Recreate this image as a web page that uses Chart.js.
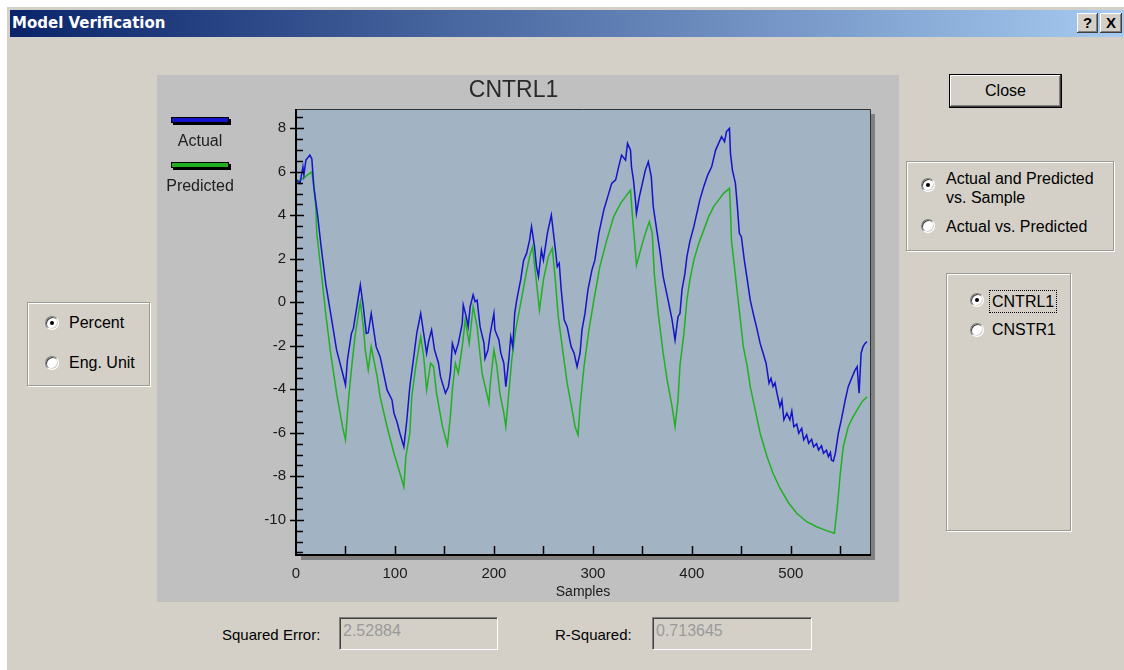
<!DOCTYPE html>
<html>
<head>
<meta charset="utf-8">
<title>Model Verification</title>
<script src="https://cdn.jsdelivr.net/npm/chart.js@4.4.1/dist/chart.umd.min.js"></script>
<style>
  body { margin: 0; width: 1124px; height: 670px; overflow: hidden; background: #fff;
         font-family: "Liberation Sans", Arial, sans-serif; }
  .abs { position: absolute; }
  .dlg { left: 6px; top: 6px; width: 1118px; height: 664px; background: #d4d0c8; box-shadow: inset 1px 1px #fff; }
  .titlebar { left: 10px; top: 10px; width: 1114px; height: 27px;
              background: linear-gradient(to right, #0a246a, #a6caf0); }
  .titlebar span { position: absolute; left: 2px; top: 0; line-height: 27px; color: #fff; font-weight: bold; font-size: 15px;
                   font-family: "DejaVu Sans", sans-serif; }
  .capbtn { top: 13px; height: 20px; background: #d4d0c8; box-sizing: border-box; text-align: center;
            font-weight: bold; font-size: 15px; line-height: 20px; color: #000;
            box-shadow: inset -1px -1px #404040, inset 1px 1px #fff, inset -2px -2px #808080; }
  .lbl { font-size: 16px; line-height: 19px; color: #000; white-space: nowrap; }
  .group { box-sizing: border-box; border: 1px solid #9c9a94; box-shadow: inset 1px 1px #fff, 1px 1px #fff; }
  .radio { width: 14px; height: 14px; border-radius: 50%; background: #fff; box-sizing: border-box;
           border: 1px solid; border-color: #808080 #fff #fff #808080;
           box-shadow: inset 1px 1px 0 #404040, inset -1px -1px 0 #d4d0c8; }
  .radio.on::after { content: ''; position: absolute; left: 4px; top: 4px; width: 4px; height: 4px;
                     border-radius: 50%; background: #000; }
  .button { left: 949px; top: 74px; width: 113px; height: 34px; box-sizing: border-box; border: 1px solid #000;
            background: #d4d0c8; text-align: center; line-height: 31px; font-size: 16px;
            box-shadow: inset -1px -1px #404040, inset 1px 1px #fff, inset -2px -2px #808080; }
  .field { top: 617px; height: 33px; box-sizing: border-box; background: #d4d0c8;
           border-top: 1px solid #808080; border-left: 1px solid #808080; border-right: 1px solid #fff; border-bottom: 1px solid #fff;
           box-shadow: inset 1px 1px #404040; font-size: 16px; color: #9a9a9a; padding: 2px 0 0 3px; line-height: 22px; }
  .panel { left: 157px; top: 75px; width: 742px; height: 527px; background: #c0c0c0; }
</style>
</head>
<body>
<div class="abs dlg"></div>
<div class="abs titlebar"><span>Model Verification</span></div>
<div class="abs capbtn" style="left:1077px;width:21px;">?</div>
<div class="abs capbtn" style="left:1100px;width:22px;">X</div>

<div class="abs group" style="left:27px;top:302px;width:123px;height:84px;"></div>
<div class="abs radio on" style="left:45px;top:316px;"></div>
<div class="abs lbl" style="left:69px;top:313px;">Percent</div>
<div class="abs radio" style="left:45px;top:356px;"></div>
<div class="abs lbl" style="left:69px;top:353px;">Eng. Unit</div>

<div class="abs button">Close</div>

<div class="abs group" style="left:906px;top:161px;width:208px;height:90px;"></div>
<div class="abs radio on" style="left:921px;top:178px;"></div>
<div class="abs lbl" style="left:946px;top:169px;">Actual and Predicted<br>vs. Sample</div>
<div class="abs radio" style="left:921px;top:219px;"></div>
<div class="abs lbl" style="left:946px;top:217px;">Actual vs. Predicted</div>

<div class="abs group" style="left:946px;top:273px;width:125px;height:258px;"></div>
<div class="abs radio on" style="left:970px;top:293px;"></div>
<div class="abs lbl" style="left:989px;top:290px;width:64px;height:21px;border:1px dotted #000;padding-left:2px;line-height:21px;box-sizing:content-box;">CNTRL1</div>
<div class="abs radio" style="left:970px;top:323px;"></div>
<div class="abs lbl" style="left:992px;top:320px;">CNSTR1</div>

<div class="abs lbl" style="left:222px;top:625px;font-size:15px;">Squared Error:</div>
<div class="abs field" style="left:339px;width:159px;">2.52884</div>
<div class="abs lbl" style="left:555px;top:625px;font-size:15px;">R-Squared:</div>
<div class="abs field" style="left:652px;width:160px;">0.713645</div>

<div class="abs panel"><canvas id="verifyChart"></canvas></div>

<script>
// sample index / value pairs, actual (blue)
const actualSamples = [
  1, 4, 7, 8, 10, 14, 16, 18, 22, 25,
  30, 35, 41, 48, 50, 52, 56, 58, 62, 65,
  68, 71, 73, 76, 78, 81, 85, 92, 97, 99,
  102, 105, 109, 112, 115, 119, 122, 126, 129, 132,
  134, 137, 140, 144, 146, 151, 154, 156, 158, 161,
  164, 168, 169, 172, 174, 176, 179, 181, 183, 186,
  190, 191, 194, 196, 200, 201, 205, 207, 210, 212,
  215, 217, 219, 221, 223, 227, 230, 233, 236, 238,
  241, 243, 245, 248, 250, 254, 258, 261, 264, 266,
  268, 271, 274, 278, 281, 284, 287, 289, 292, 295,
  299, 302, 306, 311, 316, 319, 323, 326, 329, 333,
  335, 338, 339, 341, 343, 344, 347, 350, 353, 356,
  359, 361, 365, 368, 371, 376, 380, 383, 386, 388,
  390, 393, 395, 398, 402, 405, 408, 412, 416, 420,
  424, 427, 430, 433, 435, 438, 439, 441, 444, 446,
  448, 450, 453, 456, 459, 462, 466, 469, 472, 475,
  478, 480, 482, 484, 486, 489, 491, 493, 496, 499,
  501, 503, 506, 508, 511, 513, 516, 518, 521, 523,
  526, 528, 531, 533, 536, 538, 540, 541, 543, 545,
  548, 551, 555, 558, 562, 565, 567, 569, 571, 573,
  575, 577
];
const actualValues = [
  5.62, 5.47, 6.23, 5.85, 6.54, 6.77, 6.6, 5.32, 3.94, 2.71,
  0.87, -0.51, -2.19, -3.42, -3.8, -2.65, -1.43, -1.2, -0.05, 0.8,
  -0.2, -1.43, -1.4, -0.51, -1.12, -2.04, -2.5, -4.03, -4.49, -5.1,
  -5.49, -6.02, -6.64, -5.41, -3.88, -2.5, -1.43, -0.51, -1.43, -2.34,
  -1.8, -1.27, -2.19, -2.8, -3.42, -4.18, -3.88, -3.26, -1.89, -2.34,
  -1.89, -0.97, -0.12, -0.66, -1.12, -0.2, 0.34, 0.03, 0.1, -1.12,
  -1.89, -2.58, -2.19, -1.5, -0.51, -1.27, -1.73, -2.34, -2.8, -3.88,
  -2.65, -1.58, -2.04, -0.51, 0.1, 1.03, 1.94, 2.25, 2.86, 3.48,
  2.56, 1.64, 1.18, 2.4, 1.94, 3.17, 4.01, 2.86, 1.64, 1.8,
  0.57, -0.81, -1.12, -2.04, -2.34, -2.96, -2.34, -1.27, -0.51, 0.57,
  1.48, 1.94, 3.17, 4.24, 5.01, 5.47, 5.63, 6.23, 6.77, 6.54,
  7.31, 7.0, 6.23, 5.62, 4.7, 4.09, 4.86, 5.47, 6.08, 6.46,
  5.78, 4.4, 3.17, 2.25, 1.18, 0.1, -0.81, -1.73, -0.66, -0.51,
  0.57, 1.33, 2.1, 2.8, 3.48, 4.09, 4.7, 5.32, 5.85, 6.23,
  7.0, 7.31, 7.62, 7.39, 7.85, 8.0, 6.85, 6.08, 5.47, 4.4,
  3.17, 3.02, 1.94, 1.03, 0.1, -0.51, -1.27, -1.89, -2.34, -2.8,
  -3.72, -3.5, -3.88, -3.7, -4.18, -4.8, -4.5, -5.41, -5.1, -5.41,
  -5.0, -5.72, -5.6, -6.02, -5.8, -6.33, -6.1, -6.48, -6.3, -6.64,
  -6.5, -6.79, -6.6, -6.94, -6.8, -7.1, -6.9, -7.25, -7.3, -6.94,
  -6.02, -5.41, -4.49, -3.88, -3.42, -3.11, -2.96, -4.18, -2.34, -2.04,
  -1.89, -1.81
];

// predicted (green)
const predictedSamples = [
  1, 16, 18, 20, 21, 26, 30, 35, 41, 47,
  50, 53, 57, 60, 65, 68, 70, 73, 76, 78,
  82, 85, 92, 99, 105, 109, 111, 115, 117, 121,
  126, 129, 132, 136, 139, 142, 148, 153, 156, 158,
  161, 164, 168, 171, 175, 179, 183, 188, 195, 196,
  200, 203, 206, 210, 212, 215, 218, 222, 227, 232,
  236, 239, 242, 246, 250, 255, 259, 262, 265, 269,
  274, 279, 282, 285, 287, 291, 296, 301, 307, 314,
  321, 328, 338, 340, 342, 344, 350, 353, 357, 360,
  362, 366, 371, 375, 380, 383, 386, 388, 392, 395,
  398, 402, 407, 412, 417, 422, 427, 432, 438, 439,
  440, 443, 446, 449, 452, 456, 459, 464, 469, 476,
  482, 489, 498, 506, 516, 526, 536, 544, 547, 550,
  553, 558, 563, 568, 572, 577
];
const predictedValues = [
  5.5, 6.0, 5.32, 4.4, 3.17, 1.18, -0.51, -2.34, -4.18, -5.72,
  -6.33, -4.49, -2.65, -1.43, 0.03, -1.12, -2.19, -3.11, -2.04, -2.5,
  -3.42, -4.34, -5.72, -6.94, -7.86, -8.48, -7.1, -6.02, -4.34, -2.96,
  -1.58, -2.5, -4.03, -2.8, -2.96, -4.18, -5.72, -6.56, -5.26, -4.03,
  -2.8, -3.26, -2.04, -0.81, -1.89, -0.2, -1.12, -3.26, -4.64, -3.88,
  -2.19, -2.96, -4.18, -5.1, -5.72, -4.18, -2.65, -1.27, -0.05, 1.18,
  2.1, 2.56, 1.33, -0.35, 1.03, 2.1, 2.48, 1.03, -0.66, -2.04,
  -3.72, -4.95, -5.72, -6.1, -4.8, -2.96, -1.27, 0.1, 1.64, 2.86,
  3.94, 4.55, 5.16, 3.94, 2.86, 1.71, 2.71, 3.17, 3.71, 3.17,
  1.33, -0.51, -2.34, -3.57, -4.8, -5.72, -4.49, -2.9, -1.43, 0.1,
  1.03, 1.94, 2.71, 3.32, 3.94, 4.4, 4.7, 5.01, 5.24, 4.24,
  2.86, 1.64, 0.41, -0.81, -2.04, -2.96, -3.88, -4.95, -6.02, -7.1,
  -7.86, -8.55, -9.24, -9.7, -10.09, -10.32, -10.5, -10.62, -9.4, -7.86,
  -6.64, -5.72, -5.26, -4.87, -4.57, -4.34
];

const xRange = [0, 580];
const yRange = [-11.62, 8.89];
const xLabelValues = [0, 100, 200, 300, 400, 500];
const yLabelValues = [-10, -8, -6, -4, -2, 0, 2, 4, 6, 8];
const xMarkStep = 50;
const yMarkStep = 0.5;

const toPoints = (xs, ys) => xs.map((s, i) => ({ x: s, y: ys[i] }));

// plot background, drop shadow, frame and inward tick marks
const plotFrame = {
  id: 'plotFrame',
  beforeDatasetsDraw(chart) {
    const { ctx, chartArea: a } = chart;
    ctx.save();
    ctx.fillStyle = '#808080';
    ctx.fillRect(a.left + 5, a.top + 5, a.width, a.height);
    ctx.fillStyle = '#a2b3c3';
    ctx.fillRect(a.left, a.top, a.width, a.height);
    ctx.restore();
  },
  afterDatasetsDraw(chart) {
    const { ctx, chartArea: a, scales: { x, y } } = chart;
    ctx.save();
    ctx.strokeStyle = '#303030';
    ctx.lineWidth = 1;
    ctx.beginPath();
    ctx.moveTo(a.left, a.top + 0.5);
    ctx.lineTo(a.right + 0.5, a.top + 0.5);
    ctx.lineTo(a.right + 0.5, a.bottom);
    ctx.stroke();

    ctx.strokeStyle = '#000';
    ctx.lineWidth = 2;
    ctx.beginPath();
    ctx.moveTo(a.left, a.top);
    ctx.lineTo(a.left, a.bottom);
    ctx.lineTo(a.right + 1, a.bottom);
    ctx.stroke();

    ctx.lineWidth = 1.5;
    ctx.beginPath();
    for (let v = Math.ceil(yRange[0] / yMarkStep) * yMarkStep; v <= yRange[1]; v += yMarkStep) {
      const py = Math.round(y.getPixelForValue(v)) + 0.5;
      const major = yLabelValues.some((t) => Math.abs(t - v) < 1e-6);
      ctx.moveTo(major ? a.left - 6 : a.left, py);
      ctx.lineTo(a.left + (major ? 8 : 7), py);
    }
    for (let s = xMarkStep; s <= xRange[1]; s += xMarkStep) {
      const px = Math.round(x.getPixelForValue(s)) + 0.5;
      ctx.moveTo(px, a.bottom);
      ctx.lineTo(px, a.bottom - 9);
    }
    ctx.stroke();
    ctx.restore();
  }
};

// legend block in the top-left corner: swatch above the label
const legendBlock = {
  id: 'legendBlock',
  afterDraw(chart) {
    const { ctx } = chart;
    ctx.save();
    chart.data.datasets.forEach((ds, i) => {
      const top = 43 + i * 45;
      ctx.fillStyle = '#000';
      ctx.fillRect(16, top + 1, 58, 6);
      ctx.fillStyle = ds.borderColor;
      ctx.fillRect(15, top, 56, 4);
      ctx.strokeStyle = '#000';
      ctx.lineWidth = 1;
      ctx.strokeRect(14.5, top - 0.5, 57, 5);
      ctx.font = '16px "Liberation Sans", Arial, sans-serif';
      ctx.textAlign = 'center';
      ctx.textBaseline = 'middle';
      ctx.fillStyle = '#202020';
      ctx.fillText(ds.label, 43, top + 24);
    });
    ctx.restore();
  }
};

Chart.defaults.font.family = '"Liberation Sans", Arial, sans-serif';
Chart.defaults.color = '#1a1a1a';

new Chart(document.getElementById('verifyChart'), {
  type: 'line',
  data: {
    datasets: [
      {
        label: 'Actual',
        data: toPoints(actualSamples, actualValues),
        borderColor: '#1414c8',
        borderWidth: 1.5,
        pointRadius: 0,
        tension: 0
      },
      {
        label: 'Predicted',
        data: toPoints(predictedSamples, predictedValues),
        borderColor: '#22b022',
        borderWidth: 1.5,
        pointRadius: 0,
        tension: 0
      }
    ]
  },
  options: {
    responsive: true,
    maintainAspectRatio: false,
    animation: false,
    layout: { padding: { left: 0, right: 29, top: 0, bottom: 0 } },
    plugins: {
      legend: { display: false },
      tooltip: { enabled: false },
      title: {
        display: true,
        text: 'CNTRL1',
        color: '#2a2a2a',
        font: { size: 23, weight: 'normal' },
        padding: { top: 2, bottom: 4.4 }
      }
    },
    scales: {
      x: {
        type: 'linear',
        min: xRange[0],
        max: xRange[1],
        afterBuildTicks: (scale) => { scale.ticks = xLabelValues.map((v) => ({ value: v })); },
        afterFit: (scale) => { scale.height = 47; },
        ticks: { padding: 10, autoSkip: false, maxRotation: 0, font: { size: 15 } },
        grid: { display: false, drawTicks: false },
        border: { display: false },
        title: { display: true, text: 'Samples', font: { size: 14 }, padding: { top: 0, bottom: 1.6 } }
      },
      y: {
        min: yRange[0],
        max: yRange[1],
        afterBuildTicks: (scale) => { scale.ticks = yLabelValues.map((v) => ({ value: v })); },
        afterFit: (scale) => { scale.width = 139; },
        ticks: { padding: 10, autoSkip: false, font: { size: 15 } },
        grid: { display: false, drawTicks: false },
        border: { display: false }
      }
    }
  },
  plugins: [plotFrame, legendBlock]
});
</script>
</body>
</html>
